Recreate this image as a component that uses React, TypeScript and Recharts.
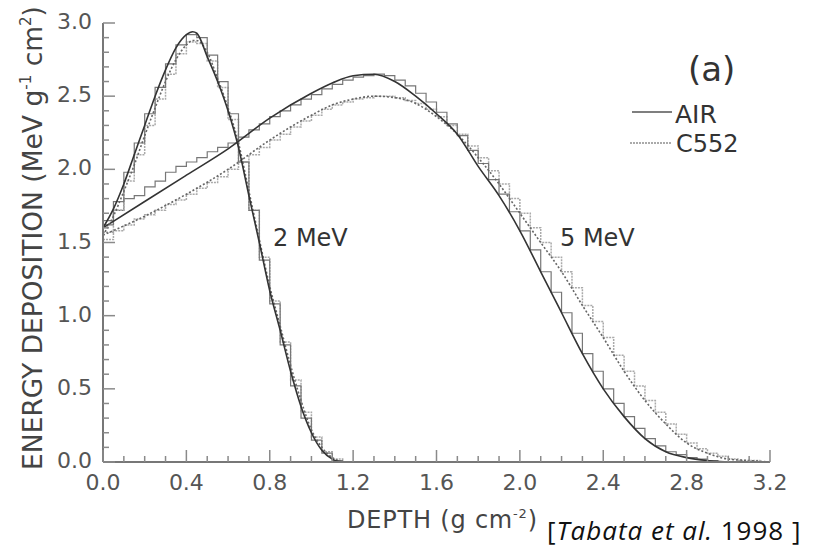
import React from "react";
import { LineChart, Line, XAxis, YAxis, Label } from "recharts";

// depth grid for the smooth (calculated) curves
const depth2 = [0, 0.05, 0.1, 0.15, 0.2, 0.25, 0.3, 0.35, 0.4, 0.43, 0.45, 0.5, 0.55, 0.6, 0.65, 0.7, 0.75, 0.8, 0.85, 0.9, 0.95, 1.0, 1.05, 1.1, 1.15];
const air2 = [1.6, 1.73, 1.9, 2.1, 2.3, 2.5, 2.68, 2.83, 2.92, 2.94, 2.93, 2.77, 2.6, 2.4, 2.15, 1.82, 1.5, 1.17, 0.9, 0.62, 0.38, 0.2, 0.08, 0.02, 0];
const c552_2 = [1.55, 1.68, 1.85, 2.03, 2.23, 2.42, 2.6, 2.75, 2.85, 2.88, 2.88, 2.8, 2.62, 2.42, 2.18, 1.85, 1.52, 1.2, 0.93, 0.66, 0.42, 0.22, 0.1, 0.03, 0];

const depth5 = [0, 0.2, 0.4, 0.6, 0.8, 1.0, 1.1, 1.2, 1.3, 1.4, 1.5, 1.6, 1.7, 1.8, 1.9, 2.0, 2.1, 2.2, 2.3, 2.4, 2.5, 2.6, 2.7, 2.8, 2.9, 3.0, 3.1, 3.2];
const air5 = [1.6, 1.78, 1.96, 2.14, 2.35, 2.52, 2.59, 2.64, 2.65, 2.6, 2.5, 2.38, 2.24, 2.02, 1.82, 1.58, 1.3, 1.02, 0.74, 0.5, 0.31, 0.16, 0.07, 0.03, 0.01, 0, 0, 0];
const c552_5 = [1.55, 1.68, 1.83, 2.0, 2.2, 2.37, 2.44, 2.48, 2.5, 2.49, 2.45, 2.36, 2.24, 2.08, 1.9, 1.7, 1.5, 1.3, 1.07, 0.85, 0.62, 0.42, 0.26, 0.13, 0.06, 0.02, 0.01, 0];

// Monte Carlo histograms (left bin edges, 0.05 wide)
const bins2 = [0, 0.05, 0.1, 0.15, 0.2, 0.25, 0.3, 0.35, 0.4, 0.45, 0.5, 0.55, 0.6, 0.65, 0.7, 0.75, 0.8, 0.85, 0.9, 0.95, 1.0, 1.05, 1.1, 1.15];
const airHist2 = [1.62, 1.78, 1.98, 2.18, 2.38, 2.56, 2.72, 2.85, 2.92, 2.9, 2.78, 2.6, 2.38, 2.05, 1.72, 1.38, 1.08, 0.8, 0.52, 0.3, 0.15, 0.06, 0.01, 0];
const c552Hist2 = [1.57, 1.72, 1.92, 2.1, 2.3, 2.48, 2.65, 2.79, 2.87, 2.86, 2.74, 2.56, 2.34, 2.05, 1.72, 1.4, 1.1, 0.82, 0.56, 0.34, 0.17, 0.07, 0.02, 0];

const bins5 = [
  0, 0.05, 0.1, 0.15, 0.2, 0.25, 0.3, 0.35, 0.4, 0.45, 0.5, 0.55, 0.6, 0.65, 0.7, 0.75,
  0.8, 0.85, 0.9, 0.95, 1.0, 1.05, 1.1, 1.15, 1.2, 1.25, 1.3, 1.35, 1.4, 1.45, 1.5, 1.55,
  1.6, 1.65, 1.7, 1.75, 1.8, 1.85, 1.9, 1.95, 2.0, 2.05, 2.1, 2.15, 2.2, 2.25, 2.3, 2.35,
  2.4, 2.45, 2.5, 2.55, 2.6, 2.65, 2.7, 2.75, 2.8, 2.85, 2.9, 2.95, 3.0, 3.05, 3.1, 3.15, 3.2,
];
const airHist5 = [
  1.65, 1.72, 1.8, 1.82, 1.88, 1.92, 1.98, 2.02, 2.05, 2.08, 2.12, 2.15, 2.18, 2.22, 2.27, 2.31,
  2.36, 2.4, 2.44, 2.48, 2.51, 2.55, 2.58, 2.61, 2.63, 2.64, 2.65, 2.64, 2.61, 2.57, 2.52, 2.46,
  2.39, 2.31, 2.23, 2.13, 2.04, 1.93, 1.83, 1.71, 1.58, 1.45, 1.3, 1.16, 1.02, 0.88, 0.74, 0.62,
  0.5, 0.4, 0.31, 0.23, 0.16, 0.11, 0.07, 0.05, 0.03, 0.02, 0.01, 0, 0, 0, 0, 0, 0,
];
const c552Hist5 = [
  1.52, 1.58, 1.62, 1.66, 1.69, 1.72, 1.76, 1.79, 1.83, 1.87, 1.91, 1.95, 2.0, 2.05, 2.1, 2.15,
  2.2, 2.24, 2.29, 2.33, 2.37, 2.41, 2.44, 2.46, 2.48, 2.49, 2.5, 2.5, 2.49, 2.47, 2.45, 2.41,
  2.36, 2.3, 2.24, 2.16, 2.08, 1.99, 1.9, 1.8, 1.7, 1.6, 1.5, 1.4, 1.3, 1.19, 1.07, 0.96,
  0.85, 0.73, 0.62, 0.52, 0.42, 0.34, 0.26, 0.19, 0.13, 0.09, 0.06, 0.04, 0.02, 0.01, 0.01, 0, 0,
];

const xTicks = [0, 0.1, 0.2, 0.3, 0.4, 0.5, 0.6, 0.7, 0.8, 0.9, 1.0, 1.1, 1.2, 1.3, 1.4, 1.5, 1.6, 1.7, 1.8, 1.9, 2.0, 2.1, 2.2, 2.3, 2.4, 2.5, 2.6, 2.7, 2.8, 2.9, 3.0, 3.1, 3.2];
const yTicks = [0, 0.1, 0.2, 0.3, 0.4, 0.5, 0.6, 0.7, 0.8, 0.9, 1.0, 1.1, 1.2, 1.3, 1.4, 1.5, 1.6, 1.7, 1.8, 1.9, 2.0, 2.1, 2.2, 2.3, 2.4, 2.5, 2.6, 2.7, 2.8, 2.9, 3.0];

const pts = (xs: number[], ys: number[]) => xs.map((x, i) => ({ x, y: ys[i] }));

const isMajor = (v: number, step: number) => Math.abs(v / step - Math.round(v / step)) < 1e-6;

const TICK = "#8a8a8a";
const LABEL = "#555";
const FONT = "'DejaVu Sans', sans-serif";

const BottomTick = ({ x, y, payload }: any) => {
  const major = isMajor(payload.value, 0.4);
  return (
    <g>
      <line x1={x} x2={x} y1={y} y2={y - (major ? 12 : 6)} stroke={TICK} strokeWidth={1.5} />
      {major && (
        <text x={x} y={y + 28} textAnchor="middle" fontSize={22} fill={LABEL} fontFamily={FONT}>
          {payload.value.toFixed(1)}
        </text>
      )}
    </g>
  );
};

const TopTick = ({ x, y, payload }: any) => {
  const major = isMajor(payload.value, 0.4);
  return <line x1={x} x2={x} y1={y} y2={y + (major ? 12 : 6)} stroke={TICK} strokeWidth={1.5} />;
};

const LeftTick = ({ x, y, payload }: any) => {
  const major = isMajor(payload.value, 0.5);
  return (
    <g>
      <line x1={x} x2={x + (major ? 12 : 6)} y1={y} y2={y} stroke={TICK} strokeWidth={1.5} />
      {major && (
        <text x={x - 11} y={y + 6} textAnchor="end" fontSize={22} fill={LABEL} fontFamily={FONT}>
          {payload.value.toFixed(1)}
        </text>
      )}
    </g>
  );
};

const RightTick = ({ x, y, payload }: any) => {
  const major = isMajor(payload.value, 0.5);
  return <line x1={x} x2={x - (major ? 12 : 6)} y1={y} y2={y} stroke={TICK} strokeWidth={1.5} />;
};

const YTitle = () => {
  const cx = 42;
  const cy = 238;
  return (
    <text x={cx} y={cy} transform={`rotate(-90 ${cx} ${cy})`} textAnchor="middle" fontSize={26.5} fill="#444" fontFamily={FONT}>
      ENERGY DEPOSITION (MeV g
      <tspan fontSize={15} dy={-11}>-1</tspan>
      <tspan dy={11}> cm</tspan>
      <tspan fontSize={15} dy={-11}>2</tspan>
      <tspan dy={11}>)</tspan>
    </text>
  );
};

export default function App() {
  const axisLine = { stroke: "#777", strokeWidth: 2 };
  return (
    <div style={{ position: "absolute", left: 0, top: 0, width: 823, height: 547, background: "#fff" }}>
      <LineChart width={823} height={547} margin={{ top: 23, right: 53, bottom: 0, left: 0 }}>
        <XAxis xAxisId="b" type="number" dataKey="x" domain={[0, 3.2]} ticks={xTicks} interval={0} allowDataOverflow
          height={85} tickSize={0} tickMargin={0} tickLine={false} axisLine={axisLine} tick={<BottomTick />} />
        <XAxis xAxisId="t" orientation="top" type="number" dataKey="x" domain={[0, 3.2]} ticks={xTicks} interval={0}
          height={0} tickSize={0} tickMargin={0} tickLine={false} axisLine={axisLine} tick={<TopTick />} />
        <YAxis yAxisId="l" type="number" domain={[0, 3]} ticks={yTicks} interval={0} allowDataOverflow
          width={103} tickSize={0} tickMargin={0} tickLine={false} axisLine={axisLine} tick={<LeftTick />}>
          <Label content={<YTitle />} />
        </YAxis>
        <YAxis yAxisId="r" orientation="right" type="number" domain={[0, 3]} ticks={yTicks} interval={0}
          width={0} tickSize={0} tickMargin={0} tickLine={false} axisLine={axisLine} tick={<RightTick />} />

        {/* histograms */}
        <Line xAxisId="b" yAxisId="l" data={pts(bins5, c552Hist5)} dataKey="y" type="stepAfter" stroke="#aaa" strokeWidth={1.5} strokeDasharray="2 1" dot={false} isAnimationActive={false} />
        <Line xAxisId="b" yAxisId="l" data={pts(bins5, airHist5)} dataKey="y" type="stepAfter" stroke="#777" strokeWidth={1.2} dot={false} isAnimationActive={false} />
        <Line xAxisId="b" yAxisId="l" data={pts(bins2, c552Hist2)} dataKey="y" type="stepAfter" stroke="#aaa" strokeWidth={1.5} strokeDasharray="2 1" dot={false} isAnimationActive={false} />
        <Line xAxisId="b" yAxisId="l" data={pts(bins2, airHist2)} dataKey="y" type="stepAfter" stroke="#777" strokeWidth={1.2} dot={false} isAnimationActive={false} />

        {/* calculated curves */}
        <Line xAxisId="b" yAxisId="l" data={pts(depth5, c552_5)} dataKey="y" type="monotone" stroke="#666" strokeWidth={1.6} strokeDasharray="2 2" dot={false} isAnimationActive={false} />
        <Line xAxisId="b" yAxisId="l" data={pts(depth5, air5)} dataKey="y" type="monotone" stroke="#333" strokeWidth={1.6} dot={false} isAnimationActive={false} />
        <Line xAxisId="b" yAxisId="l" data={pts(depth2, c552_2)} dataKey="y" type="monotone" stroke="#666" strokeWidth={1.6} strokeDasharray="2 2" dot={false} isAnimationActive={false} />
        <Line xAxisId="b" yAxisId="l" data={pts(depth2, air2)} dataKey="y" type="monotone" stroke="#333" strokeWidth={1.6} dot={false} isAnimationActive={false} />
      </LineChart>

      {/* annotations */}
      <svg style={{ position: "absolute", left: 0, top: 0, pointerEvents: "none" }} width={823} height={547}>
        <g fontFamily={FONT} fill="#333">
          <text x={688} y={81} fontSize={34}>(a)</text>
          <line x1={632} x2={672} y1={112} y2={112} stroke="#555" strokeWidth={1.5} />
          <text x={675} y={123} fontSize={25}>AIR</text>
          <line x1={630} x2={672} y1={143} y2={143} stroke="#aaa" strokeWidth={2} strokeDasharray="2 1" />
          <text x={676} y={152} fontSize={24}>C552</text>
          <text x={273} y={246} fontSize={24}>2 MeV</text>
          <text x={560} y={246} fontSize={24}>5 MeV</text>
          <text x={347} y={528} fontSize={24} fill="#444" letterSpacing={0.8}>
            DEPTH (g cm<tspan fontSize={13} dy={-10}>-2</tspan><tspan dy={10}>)</tspan>
          </text>
        </g>
        <text x={547} y={540} fontSize={26} letterSpacing={1} fill="#111" fontFamily="'Open Sans', sans-serif">
          [<tspan fontStyle="italic">Tabata et al.</tspan> 1998 ]
        </text>
      </svg>
    </div>
  );
}
